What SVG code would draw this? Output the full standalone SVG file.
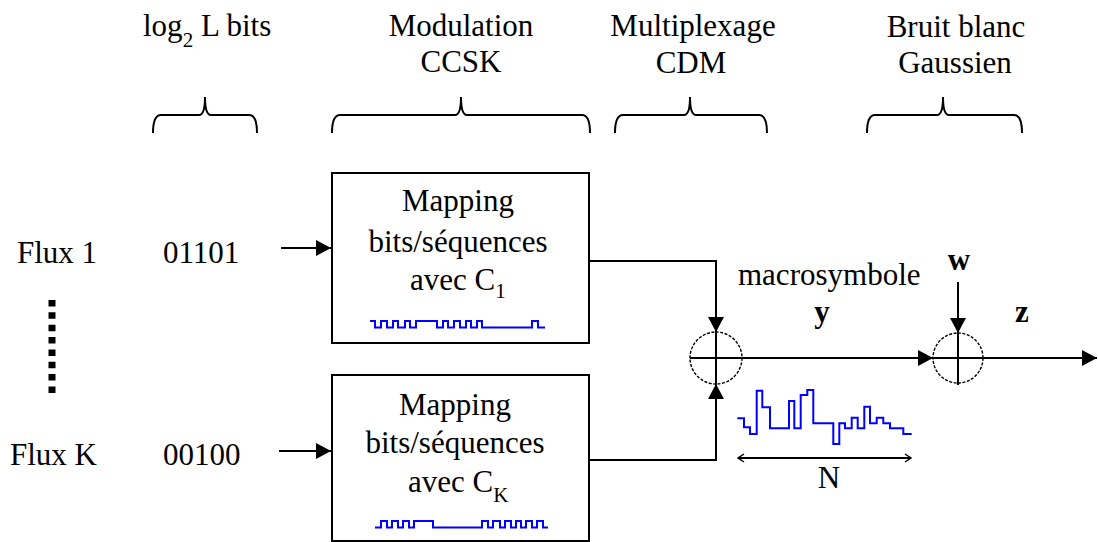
<svg xmlns="http://www.w3.org/2000/svg" width="1098" height="542" viewBox="0 0 1098 542">
<style>
text{font-family:"Liberation Serif","Tinos","Noto Serif","DejaVu Serif","Times New Roman",Times,serif;font-size:31px;fill:#000}
.b{font-weight:bold}
.m{text-anchor:middle}
.ln{fill:none;stroke:#000;stroke-width:2}
.box{fill:#fff;stroke:#000;stroke-width:2}
.wave{fill:none;stroke:#0000ff;stroke-width:2}
.sum{fill:none;stroke:#000;stroke-width:1.4;stroke-dasharray:3 1.5}
.brace{fill:none;stroke:#000;stroke-width:2}
</style>
<defs>
<marker id="ah" viewBox="0 0 15 16" refX="15" refY="8" markerWidth="15" markerHeight="16" orient="auto" markerUnits="userSpaceOnUse"><path d="M0,0 L15,8 L0,16 z" fill="#000"/></marker>
<marker id="oa" viewBox="0 0 8 10" refX="7" refY="5" markerWidth="8" markerHeight="10" orient="auto-start-reverse" markerUnits="userSpaceOnUse"><path d="M1,1 L7,5 L1,9" fill="none" stroke="#000" stroke-width="1.5"/></marker>
</defs>
<rect width="1098" height="542" fill="#fff"/>
<g id="headers">
<text x="143" y="36">log<tspan font-size="21" dy="11">2</tspan><tspan dy="-11"> L bits</tspan></text>
<text class="m" x="461" y="36">Modulation</text>
<text class="m" x="461" y="72">CCSK</text>
<text class="m" x="693" y="36">Multiplexage</text>
<text class="m" x="691" y="73">CDM</text>
<text class="m" x="956" y="37">Bruit blanc</text>
<text class="m" x="955" y="73">Gaussien</text>
</g>
<g id="braces">
<path class="brace" d="M153,133 Q153,115 161,115 L199,115 Q205,115 205,97 Q205,115 211,115 L249,115 Q257,115 257,133"/>
<path class="brace" d="M332,133 Q332,115 340,115 L455,115 Q461,115 461,97 Q461,115 467,115 L582,115 Q590,115 590,133"/>
<path class="brace" d="M615,133 Q615,115 623,115 L684,115 Q690,115 690,97 Q690,115 696,115 L759,115 Q767,115 767,133"/>
<path class="brace" d="M867,133 Q867,115 875,115 L937,115 Q943,115 943,97 Q943,115 949,115 L1014,115 Q1022,115 1022,133"/>
</g>
<g id="flux1">
<text x="17" y="263">Flux 1</text>
<text x="163" y="263">01101</text>
</g>
<g id="fluxK">
<text x="10" y="465">Flux K</text>
<text x="163" y="465">00100</text>
</g>
<g id="dots">
<path d="M52,300 V397" stroke="#000" stroke-width="7" stroke-dasharray="6.5 5.85" fill="none"/>
</g>
<g id="map1">
<rect class="box" x="332" y="173" width="257" height="170"/>
<text class="m" x="458" y="211">Mapping</text>
<text class="m" x="458" y="252">bits/séquences</text>
<text x="410" y="290">avec C<tspan font-size="21" dy="8">1</tspan></text>
<polyline class="wave" points="370,321 375,321 375,327.5 381,327.5 381,321 387,321 387,327.5 393,327.5 393,321 398,321 398,327.5 405,327.5 405,321 410,321 410,327.5 416,327.5 416,321 437,321 437,327.5 443,327.5 443,321 448,321 448,327.5 454,327.5 454,321 460,321 460,327.5 466,327.5 466,321 471,321 471,327.5 477,327.5 477,321 482,321 482,327.5 532,327.5 532,321 538,321 538,327.5 545,327.5"/>
</g>
<g id="mapK">
<rect class="box" x="332" y="375" width="257" height="166"/>
<text class="m" x="455" y="415">Mapping</text>
<text class="m" x="455" y="453">bits/séquences</text>
<text x="408" y="492">avec C<tspan font-size="21" dy="10">K</tspan></text>
<polyline class="wave" points="375,527.5 381,527.5 381,521 387,521 387,527.5 392,527.5 392,521 398,521 398,527.5 403,527.5 403,521 409,521 409,527.5 414,527.5 414,521 433,521 433,527.5 482,527.5 482,521 488,521 488,527.5 493,527.5 493,521 500,521 500,527.5 505,527.5 505,521 511,521 511,527.5 516,527.5 516,521 521,521 521,527.5 526,527.5 526,521 532,521 532,527.5 537,527.5 537,521 543,521 543,527.5 548,527.5"/>
</g>
<g id="sum1">
<circle class="sum" cx="716" cy="358" r="26"/>
<path class="ln" d="M690,358 H742 M716,332 V384" stroke-width="1.6"/>
</g>
<g id="sum2">
<circle class="sum" cx="958" cy="358" r="25"/>
<path class="ln" d="M933,358 H983 M958,333 V385" stroke-width="1.6"/>
</g>
<g id="labels">
<text x="738" y="285">macrosymbole</text>
<text class="b m" x="822" y="322">y</text>
<text class="b m" x="959" y="270">w</text>
<text class="b m" x="1022" y="322">z</text>
<text class="m" x="829" y="488">N</text>
<polyline class="wave" points="737.3,418.3 744,418.3 744,427.3 750,427.3 750,434 756.7,434 756.7,390.7 762.3,390.7 762.3,407.3 770,407.3 770,428.3 789,428.3 789,401 794.3,401 794.3,428.3 800.7,428.3 800.7,395 807.3,395 807.3,390 813.3,390 813.3,423.3 833.3,423.3 833.3,444 839.3,444 839.3,423.3 845,423.3 845,428.3 851.7,428.3 851.7,417.7 857.7,417.7 857.7,428.3 864.3,428.3 864.3,406.7 870,406.7 870,423.3 876.7,423.3 876.7,417.7 883.3,417.7 883.3,423.3 890,423.3 890,428.3 903.3,428.3 903.3,434 911.7,434"/>
</g>
<g id="connectors">
<path class="ln" d="M281,248 H331" marker-end="url(#ah)"/>
<path class="ln" d="M279,451 H331" marker-end="url(#ah)"/>
<path class="ln" d="M589,261 H716 V332" marker-end="url(#ah)"/>
<path class="ln" d="M589,460 H716 V384" marker-end="url(#ah)"/>
<path class="ln" d="M742,358 H933" marker-end="url(#ah)"/>
<path class="ln" d="M958,282 V333" marker-end="url(#ah)"/>
<path class="ln" d="M983,358 H1097" marker-end="url(#ah)"/>
<path class="ln" d="M738,458 H911" stroke-width="1.5" marker-start="url(#oa)" marker-end="url(#oa)"/>
</g>
</svg>
